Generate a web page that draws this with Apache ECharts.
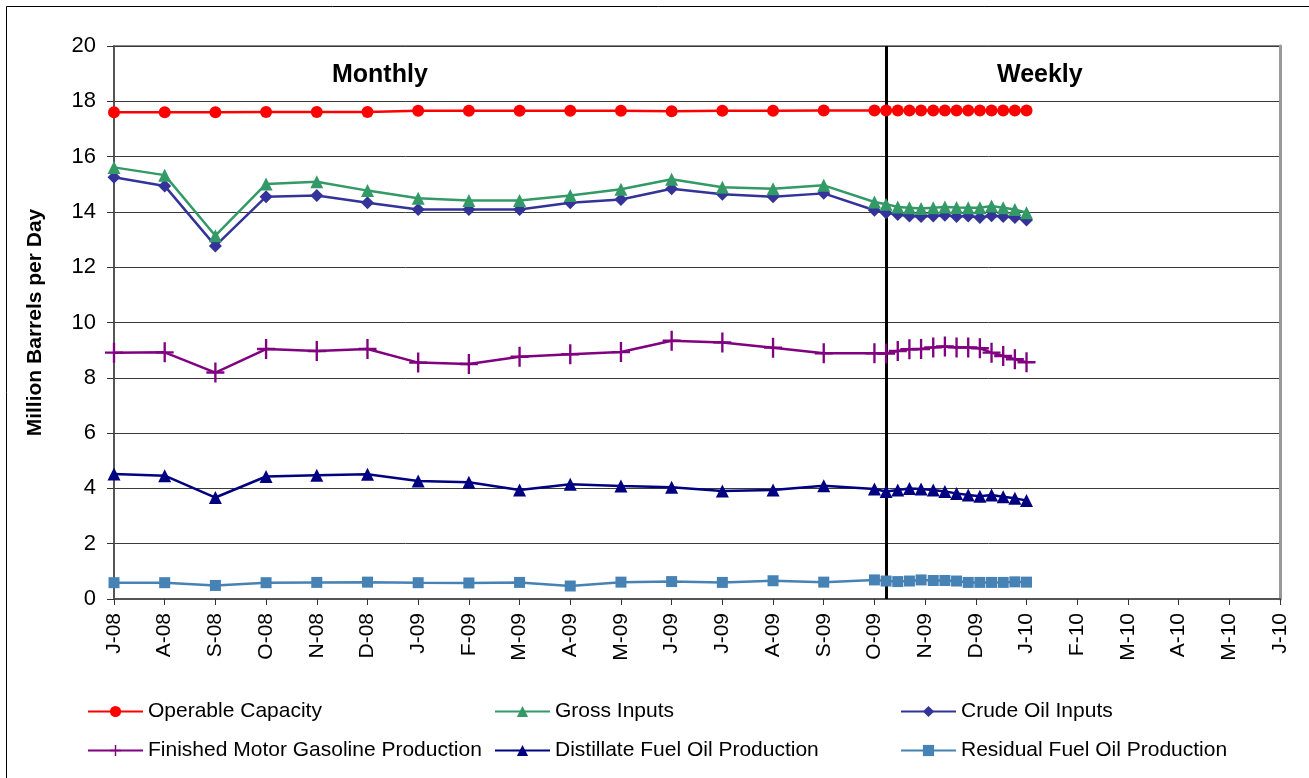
<!DOCTYPE html>
<html>
<head>
<meta charset="utf-8">
<script src="https://cdn.jsdelivr.net/npm/echarts@6/dist/echarts.min.js"></script>
<style>
html,body{margin:0;padding:0;background:#fff;}
#chart{width:1309px;height:778px;}
</style>
</head>
<body>
<div id="chart"></div>
<script>
// Axis tick labels (month index 0..23)
const monthLabels = ['J-08','A-08','S-08','O-08','N-08','D-08','J-09','F-09','M-09','A-09','M-09','J-09','J-09','A-09','S-09','O-09','N-09','D-09','J-10','F-10','M-10','A-10','M-10','J-10'];
// Monthly points at month index 0..15 (Jul-08 .. Oct-09)
const monthlyX = [0,1,2,3,4,5,6,7,8,9,10,11,12,13,14,15];
// Weekly points (position in months, Oct-09 .. Jan-10)
const weeklyX = [15.23,15.46,15.69,15.92,16.16,16.39,16.62,16.85,17.08,17.31,17.54,17.77,18.0];
const dividerX = 15.23;

const capMonthly   = [17.60,17.60,17.60,17.61,17.61,17.61,17.66,17.66,17.66,17.66,17.66,17.64,17.66,17.66,17.67,17.67];
const capWeekly    = [17.67,17.67,17.67,17.67,17.67,17.67,17.67,17.67,17.67,17.67,17.67,17.67,17.67];
const grossMonthly = [15.61,15.33,13.14,15.01,15.09,14.77,14.49,14.41,14.41,14.59,14.82,15.18,14.89,14.84,14.96,14.36];
const grossWeekly  = [14.28,14.18,14.15,14.12,14.15,14.18,14.16,14.15,14.15,14.21,14.15,14.09,13.97];
const crudeMonthly = [15.25,14.94,12.77,14.55,14.59,14.33,14.09,14.09,14.09,14.33,14.45,14.84,14.64,14.55,14.67,14.06];
const crudeWeekly  = [13.97,13.91,13.85,13.83,13.85,13.88,13.83,13.85,13.80,13.86,13.83,13.80,13.71];
const gasMonthly   = [8.91,8.92,8.19,9.04,8.97,9.04,8.55,8.50,8.76,8.85,8.93,9.34,9.28,9.09,8.89,8.89];
const gasWeekly    = [8.88,8.97,9.03,9.04,9.10,9.13,9.10,9.10,9.07,8.91,8.79,8.67,8.56];
const distMonthly  = [4.52,4.46,3.67,4.43,4.48,4.51,4.27,4.22,3.94,4.15,4.09,4.04,3.91,3.94,4.10,3.98];
const distWeekly   = [3.89,3.94,4.00,3.98,3.94,3.89,3.82,3.76,3.72,3.76,3.70,3.64,3.56];
const resMonthly   = [0.59,0.59,0.49,0.59,0.60,0.61,0.59,0.58,0.60,0.47,0.61,0.63,0.60,0.66,0.61,0.69];
const resWeekly    = [0.65,0.63,0.65,0.69,0.67,0.67,0.65,0.60,0.60,0.60,0.60,0.62,0.61];

const seriesNames = ['Operable Capacity','Gross Inputs','Crude Oil Inputs','Finished Motor Gasoline Production','Distillate Fuel Oil Production','Residual Fuel Oil Production'];

function pts(m, w) {
  const out = [];
  monthlyX.forEach((x, i) => out.push([x, m[i]]));
  weeklyX.forEach((x, i) => out.push([x, w[i]]));
  return out;
}

const plusPath = 'path://M8.7,0 L11.3,0 L11.3,20 L8.7,20 Z M0,8.8 L20,8.8 L20,11.2 L0,11.2 Z';

const styles = [
  {color:'#FF0000', symbol:'circle', size:12},
  {color:'#339966', symbol:'triangle', size:13},
  {color:'#333399', symbol:'diamond', size:13},
  {color:'#800080', symbol:plusPath, size:[18,20]},
  {color:'#000080', symbol:'triangle', size:13},
  {color:'#4682B4', symbol:'rect', size:11}
];
const dataSets = [
  pts(capMonthly, capWeekly),
  pts(grossMonthly, grossWeekly),
  pts(crudeMonthly, crudeWeekly),
  pts(gasMonthly, gasWeekly),
  pts(distMonthly, distWeekly),
  pts(resMonthly, resWeekly)
];

const series = seriesNames.map((n, i) => ({
  name: n,
  type: 'line',
  data: dataSets[i],
  symbol: styles[i].symbol,
  symbolSize: styles[i].size,
  showAllSymbol: true,
  lineStyle: {color: styles[i].color, width: 2.5},
  itemStyle: {color: styles[i].color},
  z: 10 - i,
  animation: false
}));
// divider line
series[0].markLine = {
  silent: true,
  symbol: ['none','none'],
  label: {show:false},
  lineStyle: {color:'#000', width:3, type:'solid'},
  data: [{xAxis: dividerX}],
  animation: false
};

const legendPos = [
  {left:87, top:701}, {left:494, top:701}, {left:900, top:701},
  {left:87, top:740}, {left:494, top:740}, {left:900, top:740}
];
const legends = seriesNames.map((n, i) => ({
  data: [n],
  left: legendPos[i].left,
  top: legendPos[i].top,
  itemWidth: 55,
  itemHeight: 14,
  itemGap: 0,
  textStyle: {fontFamily:'Liberation Sans, Arial', fontSize:21, color:'#000', padding:[0,0,0,0]},
  padding: 0,
  selectedMode: false
}));

const FONT = 'Liberation Sans, Arial';
const chart = echarts.init(document.getElementById('chart'), null, {renderer:'canvas'});
chart.setOption({
  animation: false,
  backgroundColor: '#fff',
  grid: {left:114, right:29, top:46, bottom:179, containLabel:false},
  xAxis: {
    type: 'value', min: 0, max: 23, interval: 1,
    axisLine: {show:true, onZero:false, lineStyle:{color:'#555', width:2}},
    axisTick: {show:true, length:6, lineStyle:{color:'#333'}},
    splitLine: {show:false},
    axisLabel: {
      rotate: 90, margin: 14, fontSize: 21, color: '#000',
      fontFamily: FONT,
      formatter: v => monthLabels[Math.round(v)] || ''
    }
  },
  yAxis: [{
    type: 'value', min: 0, max: 20, interval: 2,
    name: 'Million Barrels per Day',
    nameLocation: 'middle', nameGap: 68,
    nameTextStyle: {fontSize:21, fontWeight:'bold', color:'#000', fontFamily:FONT},
    axisLine: {show:true, lineStyle:{color:'#555', width:2}},
    axisTick: {show:true, length:7, lineStyle:{color:'#333'}},
    splitLine: {show:true, lineStyle:{color:'#3a3a3a', width:1}},
    axisLabel: {fontSize:22, color:'#000', margin:18, fontFamily:FONT}
  }, {
    type: 'value', min: 0, max: 20, interval: 2, position: 'right',
    axisLine: {show:true, lineStyle:{color:'#999', width:3}},
    axisTick: {show:false}, axisLabel: {show:false}, splitLine: {show:false}
  }],
  legend: legends,
  graphic: [
    {type:'rect', shape:{x:6.5, y:6.5, width:1320, height:800}, style:{fill:'none', stroke:'#000', lineWidth:1}, silent:true, z:-1},
    {type:'rect', shape:{x:114, y:46, width:1166, height:0}, style:{stroke:'#888', lineWidth:2, fill:'none'}, silent:true},
    {type:'text', left:332, top:63, style:{text:'Monthly', font:'bold 25px "Liberation Sans", Arial', fill:'#000'}},
    {type:'text', left:997, top:63, style:{text:'Weekly', font:'bold 25px "Liberation Sans", Arial', fill:'#000'}}
  ],
  series: series
});
</script>
</body>
</html>
